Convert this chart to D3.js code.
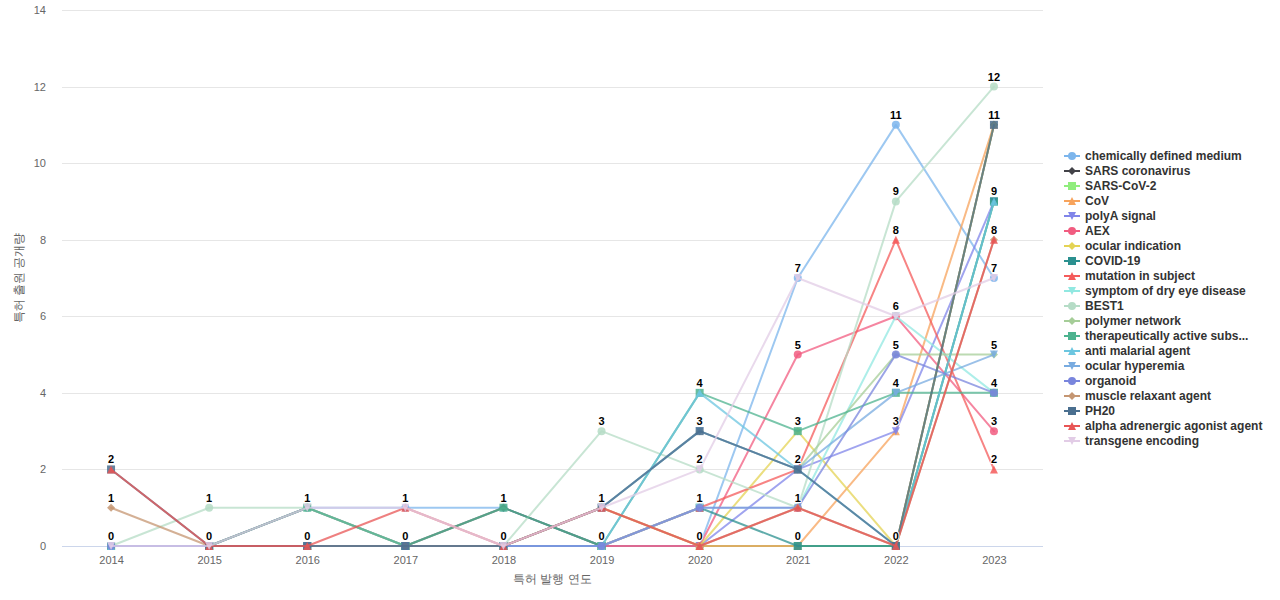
<!DOCTYPE html>
<html><head><meta charset="utf-8">
<script src="https://cdn.jsdelivr.net/npm/d3@7/dist/d3.min.js"></script>
<style>
body{margin:0;background:#fff;font-family:"Liberation Sans","DejaVu Sans",Arial,sans-serif;}
svg{display:block}
</style></head><body>
<svg id="chart" width="1280" height="600"></svg>
<script>
const years = ["2014","2015","2016","2017","2018","2019","2020","2021","2022","2023"];
const seriesNames = ["chemically defined medium","SARS coronavirus","SARS-CoV-2","CoV","polyA signal","AEX","ocular indication","COVID-19","mutation in subject","symptom of dry eye disease","BEST1","polymer network","therapeutically active subs...","anti malarial agent","ocular hyperemia","organoid","muscle relaxant agent","PH20","alpha adrenergic agonist agent","transgene encoding"];
const chemicallyDefinedMedium = [0,0,1,1,1,0,0,7,11,7];
const sarsCoronavirus        = [0,0,1,0,1,0,0,0,0,11];
const sarsCov2               = [0,0,0,0,0,0,0,0,0,9];
const cov                    = [0,0,0,0,0,0,0,0,3,11];
const polyASignal            = [0,0,0,0,0,0,0,2,3,9];
const aex                    = [0,0,0,0,0,0,0,5,6,3];
const ocularIndication       = [0,0,0,0,0,1,0,3,0,11];
const covid19                = [0,0,0,0,0,0,1,0,0,9];
const mutationInSubject      = [0,0,0,0,0,0,1,2,8,2];
const drySymptom             = [0,0,0,0,0,0,1,1,6,4];
const best1                  = [0,1,1,0,0,3,2,1,9,12];
const polymerNetwork         = [0,0,0,0,0,1,3,2,5,5];
const therapeuticallyActive  = [0,0,1,0,1,0,4,3,4,4];
const antiMalarial           = [0,0,0,0,0,0,4,2,0,9];
const ocularHyperemia        = [0,0,0,0,0,1,3,2,4,5];
const organoid               = [0,0,0,0,0,0,1,1,5,4];
const muscleRelaxant         = [1,0,0,0,0,1,0,1,0,8];
const ph20                   = [2,0,0,0,0,1,3,2,0,11];
const alphaAdrenergic        = [2,0,0,1,0,1,0,1,0,8];
const transgeneEncoding      = [0,0,1,1,0,1,2,7,6,7];
const seriesValues = [chemicallyDefinedMedium,sarsCoronavirus,sarsCov2,cov,polyASignal,aex,ocularIndication,covid19,mutationInSubject,drySymptom,best1,polymerNetwork,therapeuticallyActive,antiMalarial,ocularHyperemia,organoid,muscleRelaxant,ph20,alphaAdrenergic,transgeneEncoding];
const colors = ["#7cb5ec","#434348","#90ed7d","#f7a35c","#8085e9","#f15c80","#e4d354","#2b908f","#f45b5b","#91e8e1","#b5dcc6","#a5cd98","#4db38f","#6cc6e0","#78abe0","#7985dd","#c59672","#4a6f8f","#e85555","#e2cce6"];
const symbolTypes = ["circle","diamond","square","triangle","triangle-down"];
const yTicks = [0,2,4,6,8,10,12,14];
const xTitle = "특허 발행 연도";
const yTitle = "특허 출원 공개량";

(function(){
const svg = d3.select("#chart");
const pLeft = 62, pRight = 1043, pTop = 10, pBottom = 546;
const x = d3.scalePoint().domain(years).range([pLeft, pRight]).padding(0.5);
const y = d3.scaleLinear().domain([0,14]).range([pBottom, pTop]);

svg.append("g").selectAll("line").data(yTicks).join("line")
  .attr("x1", pLeft).attr("x2", pRight)
  .attr("y1", d=>Math.round(y(d))+0.5).attr("y2", d=>Math.round(y(d))+0.5)
  .attr("stroke", "#e6e6e6").attr("stroke-width",1);

const yAxis = d3.axisLeft(y).tickValues(yTicks).tickSize(0).tickPadding(0);
const ya = svg.append("g").attr("transform", `translate(${pLeft-16},0)`).call(yAxis);
ya.select(".domain").remove();
ya.selectAll("text").attr("fill","#666").style("font-size","11px").attr("dy","0.32em");

const xAxis = d3.axisBottom(x).tickSize(0).tickPadding(0);
const xa = svg.append("g").attr("transform", `translate(0,${pBottom+0.5})`).call(xAxis);
xa.select(".domain").attr("stroke","#ccd6eb").attr("d", `M${pLeft},0H${pRight}`);
xa.selectAll("text").attr("fill","#666").style("font-size","11px").attr("y",10).attr("dy","0.71em");

svg.append("text").attr("x", (pLeft+pRight)/2).attr("y", 583).attr("text-anchor","middle")
  .attr("fill","#666").style("font-size","12px").text(xTitle);
svg.append("text").attr("transform", `translate(23,${(pTop+pBottom)/2}) rotate(-90)`).attr("text-anchor","middle")
  .attr("fill","#666").style("font-size","12px").text(yTitle);

function symbolPath(type){
  const r = 4;
  switch(type){
    case "circle": return d3.symbol(d3.symbolCircle, Math.PI*r*r)();
    case "square": return `M${-r},${-r}H${r}V${r}H${-r}Z`;
    case "diamond": return `M0,${-r}L${r},0L0,${r}L${-r},0Z`;
    case "triangle": return `M0,${-r}L${r},${r}L${-r},${r}Z`;
    case "triangle-down": return `M${-r},${-r}L${r},${-r}L0,${r}Z`;
  }
}

const line = d3.line().x((d,i)=>x(years[i])).y(d=>y(d));
const plot = svg.append("g");
seriesValues.forEach((vals, si)=>{
  const g = plot.append("g");
  g.append("path").attr("d", line(vals)).attr("fill","none")
    .attr("stroke", colors[si]).attr("stroke-width",2).attr("stroke-opacity",0.75)
    .attr("stroke-linejoin","round").attr("stroke-linecap","round");
  g.selectAll("path.m").data(vals).join("path").attr("class","m")
    .attr("transform",(d,i)=>`translate(${x(years[i])},${y(d)})`)
    .attr("d", symbolPath(symbolTypes[si%5])).attr("fill", colors[si]).attr("fill-opacity",0.85);
});

const labels = [];
years.forEach((yr, i)=>{
  const seen = new Set();
  seriesValues.forEach(vals=>{ if(!seen.has(vals[i])){ seen.add(vals[i]); labels.push({yr, v: vals[i]}); } });
});
svg.append("g").selectAll("text").data(labels).join("text")
  .attr("x", d=>x(d.yr)).attr("y", d=>y(d.v)-6).attr("text-anchor","middle")
  .style("font-size","11px").style("font-weight","bold").attr("fill","#000")
  .attr("stroke","#fff").attr("stroke-width",2).attr("stroke-linejoin","round")
  .style("paint-order","stroke").text(d=>d.v);

const lg = svg.append("g");
seriesNames.forEach((name, si)=>{
  const ly = 156 + si*15;
  lg.append("line").attr("x1",1064).attr("x2",1080).attr("y1",ly).attr("y2",ly)
    .attr("stroke",colors[si]).attr("stroke-width",2);
  lg.append("path").attr("transform",`translate(1072,${ly})`).attr("d",symbolPath(symbolTypes[si%5])).attr("fill",colors[si]);
  lg.append("text").attr("x",1085).attr("y",ly+4).style("font-size","12px").style("font-weight","bold")
    .attr("fill","#333").text(name);
});
})();
</script>
</body></html>
